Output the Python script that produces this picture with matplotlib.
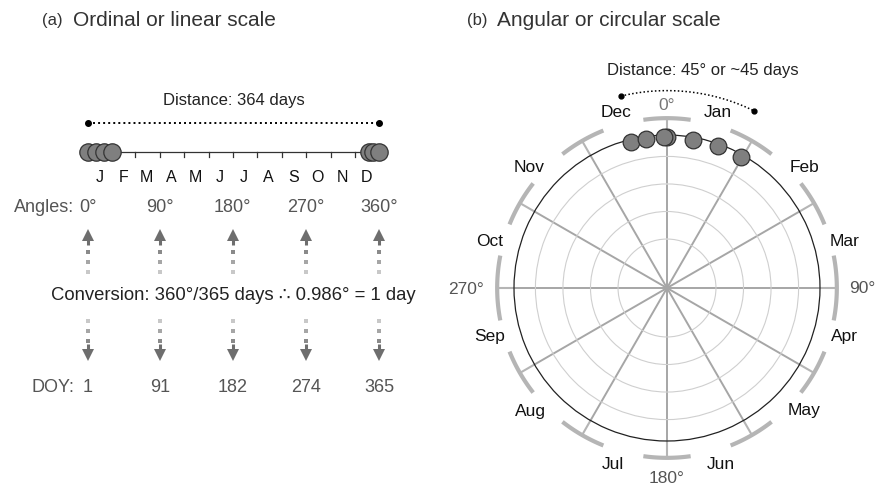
import numpy as np
import matplotlib
matplotlib.use("Agg")
import matplotlib.pyplot as plt

plt.rcParams['font.family'] = ['Liberation Sans', 'DejaVu Sans']

# --- data ---
obs_doy = [1, 11, 21, 31, 352, 358, 365]          # observation days of year
month_letters = ["J", "F", "M", "A", "M", "J", "J", "A", "S", "O", "N", "D"]
month_names = ["Jan", "Feb", "Mar", "Apr", "May", "Jun",
               "Jul", "Aug", "Sep", "Oct", "Nov", "Dec"]
month_start = [1, 32, 60, 91, 121, 152, 182, 213, 244, 274, 305, 335]
month_mid = [15, 46, 74, 105, 135, 166, 196, 227, 258, 288, 319, 349]
angle_marks = [0, 90, 180, 270, 360]
doy_marks = [1, 91, 182, 274, 365]
circ_distance = 45                                  # degrees (~days) on the circle
deg_per_day = 360 / 365

# label placement around the circle (degrees, clockwise from top)
month_label_deg = [16, 48.5, 75, 105, 131.5, 163, 197, 228, 255, 285, 311.5, 344]
arc_deg = (-13.5, 26)

GREY_TXT = "#555555"
DOT_GREYS = ["#8a8a8a", "#a6a6a6", "#c8c8c8"]

fig = plt.figure(figsize=(8.76, 4.89), dpi=100)

# titles
fig.text(42 / 876, 1 - 21 / 489, "(a)", fontsize=12, color="#333333", va="center")
fig.text(73 / 876, 1 - 20 / 489, "Ordinal or linear scale", fontsize=15, color="#333333", va="center")
fig.text(467 / 876, 1 - 21 / 489, "(b)", fontsize=12, color="#333333", va="center")
fig.text(497 / 876, 1 - 20 / 489, "Angular or circular scale", fontsize=15, color="#333333", va="center")

# ---------------- (a) linear scale ----------------
ax = fig.add_axes([0, 0, 438 / 876, 1])
ax.set_xlim(-109.1, 438.8)
ax.set_ylim(489, 0)
ax.axis("off")

first, last = doy_marks[0], doy_marks[-1]
mid = (first + last) / 2

ax.text(mid, 101, f"Distance: {last - first} days", fontsize=12, ha="center", va="center", color="#222222")
ax.plot([first, last], [124, 124], color="black", lw=1.4, ls=(0, (1, 1.6)))
ax.plot([first, last], [124, 124], "o", color="black", ms=4)

ax.plot([first, last], [153, 153], color="#333333", lw=0.9)
for d in month_start[1:]:
    ax.plot([d, d], [153, 157.5], color="#333333", lw=0.9)
ax.plot(obs_doy, [153] * len(obs_doy), "o", ms=12.5, mfc="#7f7f7f", mec="#333333", mew=0.9, ls="none")

for d, lab in zip(month_mid, month_letters):
    ax.text(d, 178, lab, fontsize=11.5, ha="center", va="center", color="#111111")

ax.annotate("Angles:", xy=(first, 208), xytext=(-10, 0), textcoords="offset points",
            fontsize=13, ha="right", va="center", color=GREY_TXT)
ax.annotate("DOY:", xy=(first, 388), xytext=(-10, 0), textcoords="offset points",
            fontsize=13, ha="right", va="center", color=GREY_TXT)
for d, a in zip(doy_marks, angle_marks):
    ax.text(d, 208, f"{a}°", fontsize=13, ha="center", va="center", color=GREY_TXT)
    ax.text(d, 388, f"{d}", fontsize=13, ha="center", va="center", color=GREY_TXT)
    # up arrow
    ax.plot(d, 236, "^", ms=8, color="#6e6e6e", mew=0)
    ax.plot([d, d], [238, 246], color="#6e6e6e", lw=2.2, solid_capstyle="butt")
    for y, c in zip([253, 263, 273], DOT_GREYS):
        ax.plot(d, y, "s", ms=2.6, color=c, mew=0)
    # down arrow
    for y, c in zip([322, 332, 342], DOT_GREYS[::-1]):
        ax.plot(d, y, "s", ms=2.6, color=c, mew=0)
    ax.plot([d, d], [345, 351], color="#6e6e6e", lw=2.2, solid_capstyle="butt")
    ax.plot(d, 356, "v", ms=8, color="#6e6e6e", mew=0)

ax.text(mid, 295, "Conversion: 360°/365 days \u2234 %.3f° = 1 day" % deg_per_day,
        fontsize=13.3, ha="center", va="center", color="#222222")

# ---------------- (b) circular scale ----------------
cx, cy, rad = 667, 289, 153
pax = fig.add_axes([(cx - rad) / 876, (489 - cy - rad) / 489, 2 * rad / 876, 2 * rad / 489],
                   projection="polar")
pax.set_theta_zero_location("N")
pax.set_theta_direction(-1)
pax.set_rlim(0, 1)
pax.set_rticks([0.32, 0.5, 0.68, 0.86])
pax.set_yticklabels([])
pax.set_thetagrids(np.arange(0, 360, 30), labels=[])
pax.xaxis.grid(True, color="#a6a6a6", lw=1.4)
pax.yaxis.grid(True, color="#cfcfcf", lw=0.8)
pax.spines["polar"].set_color("#222222")
pax.spines["polar"].set_linewidth(0.9)
pax.tick_params(length=0)

# outer grey arcs with ticks at each 30 degrees
for a in range(0, 360, 30):
    hw = 11 if a in (90, 270) else 8
    th = np.deg2rad(np.linspace(a - hw, a + hw, 40))
    pax.plot(th, np.full_like(th, 1.11), color="#b5b5b5", lw=3, clip_on=False, solid_capstyle="butt")
    pax.plot([np.deg2rad(a)] * 2, [1.0, 1.11], color="#b5b5b5", lw=1.5, clip_on=False)

for deg, name in zip(month_label_deg, month_names):
    pax.text(np.deg2rad(deg), 1.2, name, fontsize=12.5, ha="center", va="center", color="#111111")

pax.text(0, 1.20, "0°", fontsize=12.5, ha="center", va="center", color="#777777")
pax.text(np.pi, 1.24, "180°", fontsize=12.5, ha="center", va="center", color=GREY_TXT)
pax.text(np.pi / 2, 1.19, "90°", fontsize=12.5, ha="left", va="center", color=GREY_TXT)
pax.text(3 * np.pi / 2, 1.20, "270°", fontsize=12.5, ha="right", va="center", color=GREY_TXT)

obs_theta = np.deg2rad((np.array(obs_doy) - 1) * deg_per_day)
pax.plot(obs_theta, np.full(len(obs_doy), 0.985), "o", ms=12, mfc="#7f7f7f", mec="#333333",
         mew=0.9, ls="none", clip_on=False, zorder=5)

# dotted distance arc over the cluster of observations
arc = np.deg2rad(np.linspace(arc_deg[0], arc_deg[1], 80))
pax.plot(arc, np.full_like(arc, 1.29), color="black", lw=1.1, ls=(0, (1, 1.5)), clip_on=False)
pax.plot(np.deg2rad(arc_deg), [1.29, 1.29], "o", color="black", ms=3.5, clip_on=False)
pax.text(np.deg2rad(9.3), 1.45, f"Distance: {circ_distance}° or ~{circ_distance} days", fontsize=12,
         ha="center", va="center", color="#222222")

fig.savefig("out.png", dpi=100)
